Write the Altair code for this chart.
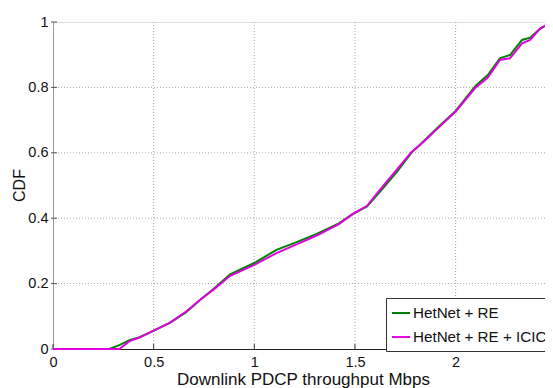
import altair as alt
import pandas as pd

# ---- data ----
series_names = ["HetNet + RE", "HetNet + RE + ICIC"]

re_x = [0, 0.28, 0.33, 0.38, 0.43, 0.50, 0.58, 0.66, 0.73, 0.80, 0.88, 1.00, 1.11, 1.21,
        1.31, 1.42, 1.49, 1.56, 1.64, 1.71, 1.78, 1.84, 1.91, 2.00, 2.10, 2.16, 2.22,
        2.27, 2.33, 2.37, 2.42, 2.45, 2.48]
re_y = [0, 0, 0.012, 0.027, 0.036, 0.056, 0.080, 0.112, 0.150, 0.185, 0.228, 0.263, 0.303,
        0.327, 0.352, 0.384, 0.413, 0.436, 0.492, 0.543, 0.600, 0.635, 0.677, 0.728, 0.805,
        0.838, 0.889, 0.899, 0.945, 0.952, 0.980, 0.990, 0.997]

icic_x = [0, 0.33, 0.38, 0.43, 0.50, 0.58, 0.66, 0.73, 0.80, 0.88, 1.00, 1.11, 1.21, 1.31,
          1.42, 1.49, 1.56, 1.64, 1.71, 1.78, 1.84, 1.91, 2.00, 2.10, 2.16, 2.22, 2.27,
          2.33, 2.37, 2.42, 2.45, 2.48]
icic_y = [0, 0, 0.024, 0.035, 0.056, 0.080, 0.114, 0.150, 0.183, 0.224, 0.257, 0.293, 0.320,
          0.347, 0.382, 0.413, 0.438, 0.499, 0.550, 0.602, 0.633, 0.674, 0.726, 0.800, 0.830,
          0.884, 0.889, 0.935, 0.945, 0.980, 0.990, 0.997]

x_ticks = [0, 0.5, 1, 1.5, 2]
y_ticks = [0, 0.2, 0.4, 0.6, 0.8, 1]
x_grid = [0.5, 1, 1.5, 2]
y_grid = [0.2, 0.4, 0.6, 0.8]

X_MAX = 2.444
W, H = 492, 327
FONT = "Liberation Sans"

df_re = pd.DataFrame({"x": re_x, "y": re_y, "series": series_names[0]})
df_icic = pd.DataFrame({"x": icic_x, "y": icic_y, "series": series_names[1]})

xs = alt.Scale(domain=[0, X_MAX], nice=False, zero=False)
ys = alt.Scale(domain=[0, 1], nice=False)
color = alt.Color(
    "series:N",
    scale=alt.Scale(domain=series_names, range=["#008000", "#e000e0"]),
    title=None,
    legend=alt.Legend(
        orient="none", legendX=333, legendY=276,
        direction="vertical",
        symbolType="stroke", symbolSize=324, symbolStrokeWidth=2,
        labelFontSize=15.2, labelFont=FONT, labelColor="#111",
        labelOffset=2, rowPadding=5,
        padding=5, strokeColor="#333", fillColor="white", cornerRadius=0,
    ),
)

gx = alt.Chart(pd.DataFrame({"v": x_grid})).mark_rule(
    color="#a8a8a8", strokeWidth=1, strokeDash=[1, 2]
).encode(x=alt.X("v:Q", scale=xs))
gy = alt.Chart(pd.DataFrame({"v": y_grid})).mark_rule(
    color="#a8a8a8", strokeWidth=1, strokeDash=[1, 2]
).encode(y=alt.Y("v:Q", scale=ys))

# inward ticks
tx = alt.Chart(pd.DataFrame({"v": x_ticks})).mark_rule(color="#333", strokeWidth=1).encode(
    x=alt.X("v:Q", scale=xs), y=alt.value(H - 5), y2=alt.value(H)
)
ty = alt.Chart(pd.DataFrame({"v": y_ticks})).mark_rule(color="#555", strokeWidth=1).encode(
    y=alt.Y("v:Q", scale=ys), x=alt.value(-2), x2=alt.value(4)
)

line_re = alt.Chart(df_re).mark_line(strokeWidth=2).encode(
    x=alt.X("x:Q", scale=xs, axis=alt.Axis(
        values=x_ticks, format="~g", grid=False, ticks=False,
        domainColor="#222", labelFontSize=14.5, labelFont=FONT, labelColor="#111",
        labelPadding=6, labelFlush=False,
        title="Downlink PDCP throughput Mbps", titleFont=FONT, titleFontSize=17,
        titleFontWeight="normal", titleColor="#111",
        titleBaseline="alphabetic", titleY=35, titleX=250, titleAlign="center",
    )),
    y=alt.Y("y:Q", scale=ys, axis=alt.Axis(
        values=y_ticks, format="~g", grid=False, ticks=False,
        domainColor="#999", labelFontSize=14.5, labelFont=FONT, labelColor="#111",
        labelPadding=5, labelFlush=False,
        title="CDF", titleFont=FONT, titleFontSize=16, titleFontWeight="normal",
        titleColor="#111", titleX=-34, titleY=163, titleAngle=-90,
        titleAlign="center", titleBaseline="middle",
    )),
    color=color,
)
line_icic = alt.Chart(df_icic).mark_line(strokeWidth=2).encode(
    x=alt.X("x:Q", scale=xs), y=alt.Y("y:Q", scale=ys), color=color
)

chart = alt.layer(gx, gy, tx, ty, line_re, line_icic).properties(
    width=W, height=H,
    autosize=alt.AutoSizeParams(type="none"),
    padding={"left": 45, "top": 14, "right": 0, "bottom": 42},
).configure_view(stroke=None).configure(background="white")

chart.save("out.html", embed_options={"renderer": "svg", "actions": False})
